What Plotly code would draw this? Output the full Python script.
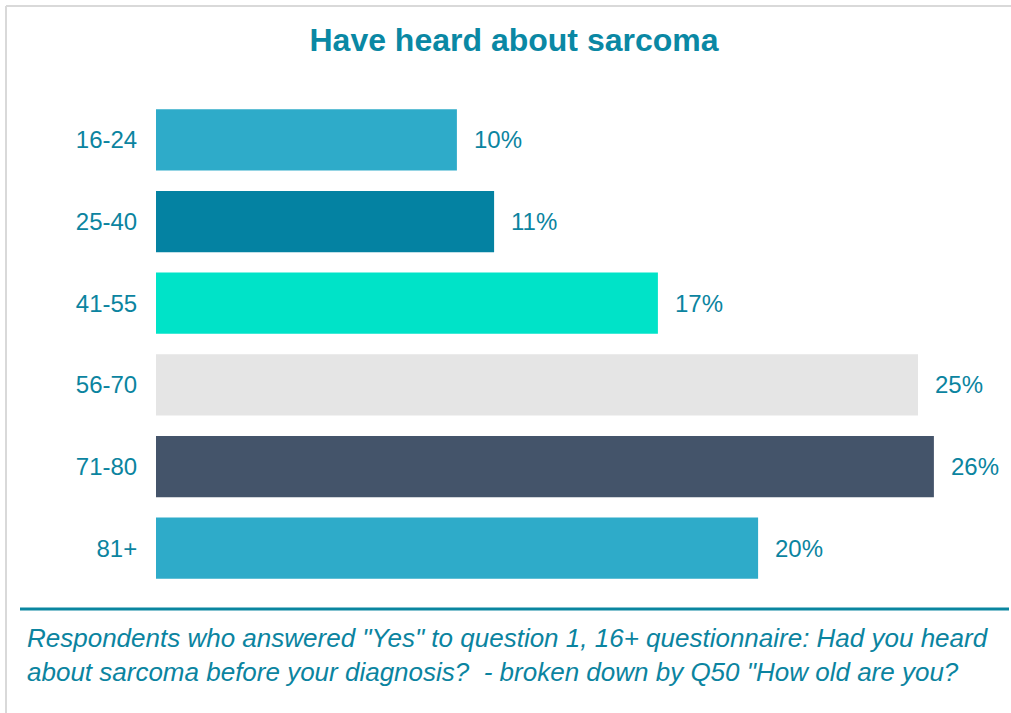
import plotly.graph_objects as go

# ---- data ----
age_groups = ["16-24", "25-40", "41-55", "56-70", "71-80", "81+"]
heard_pct = [10.03, 11.27, 16.73, 25.4, 25.93, 20.07]
bar_colors = ["#2EABC9", "#0482A2", "#00E3C8", "#E5E5E5", "#44546A", "#2EABC9"]

title_text = "Have heard about sarcoma"
footer_line1 = 'Respondents who answered "Yes" to question 1, 16+ questionnaire: Had you heard'
footer_line2 = 'about sarcoma before your diagnosis?  - broken down by Q50 "How old are you?'

TEXT_COLOR = "#0B84A0"
FONT = "Liberation Sans, Arial, sans-serif"
W, H = 1011, 713

L, R, T, B = 156, 15, 99, 124
pw = W - L - R
ph = H - T - B


def px_to_paper_x(px):
    return (px - L) / pw


def px_to_paper_y(py):
    return (H - B - py) / ph


fig = go.Figure(
    go.Bar(
        x=heard_pct,
        y=age_groups,
        orientation="h",
        marker=dict(color=bar_colors, line=dict(width=0)),
        hoverinfo="skip",
    )
)

# value labels, built from the data
for cat, val in zip(age_groups, heard_pct):
    fig.add_annotation(
        x=val, y=cat, xref="x", yref="y",
        text=f"{round(val)}%", showarrow=False,
        xanchor="left", yanchor="middle", xshift=15,
        font=dict(family=FONT, size=24, color=TEXT_COLOR),
    )

# footer text
for line, cy in ((footer_line1, 638), (footer_line2, 672)):
    fig.add_annotation(
        x=px_to_paper_x(25), y=px_to_paper_y(cy), xref="paper", yref="paper",
        text=f"<i>{line}</i>", showarrow=False,
        xanchor="left", yanchor="middle",
        font=dict(family=FONT, size=26, color=TEXT_COLOR),
    )

# footer rule
fig.add_shape(
    type="line", xref="paper", yref="paper",
    x0=px_to_paper_x(20), x1=px_to_paper_x(1009),
    y0=px_to_paper_y(609), y1=px_to_paper_y(609),
    line=dict(color="#0A86A0", width=3),
)
# outer light grey border (top and left)
fig.add_shape(
    type="line", xref="paper", yref="paper",
    x0=px_to_paper_x(6), x1=px_to_paper_x(1011),
    y0=px_to_paper_y(6), y1=px_to_paper_y(6),
    line=dict(color="#D9D9D9", width=2),
)
fig.add_shape(
    type="line", xref="paper", yref="paper",
    x0=px_to_paper_x(6), x1=px_to_paper_x(6),
    y0=px_to_paper_y(6), y1=px_to_paper_y(713),
    line=dict(color="#D9D9D9", width=2),
)

fig.update_layout(
    width=W, height=H,
    margin=dict(l=L, r=R, t=T, b=B, pad=0),
    paper_bgcolor="white", plot_bgcolor="white",
    bargap=0.25,
    showlegend=False,
    title=dict(
        text=f"<b>{title_text}</b>",
        x=514 / W, xref="container", xanchor="center",
        y=1 - 40 / H, yref="container", yanchor="middle",
        font=dict(family=FONT, size=32, color="#0A88A4"),
    ),
    xaxis=dict(range=[0, 28], showticklabels=False, showgrid=False,
               zeroline=False, showline=False, fixedrange=True),
    yaxis=dict(categoryorder="array", categoryarray=age_groups,
               autorange="reversed", showgrid=False, zeroline=False,
               showline=False, ticks="outside", ticklen=13,
               tickcolor="rgba(0,0,0,0)", fixedrange=True,
               tickfont=dict(family=FONT, size=24, color=TEXT_COLOR)),
)

fig.write_html(
    "out.html",
    config={"displayModeBar": False},
    post_script="document.body.style.margin='0';document.body.style.overflow='hidden';",
)
